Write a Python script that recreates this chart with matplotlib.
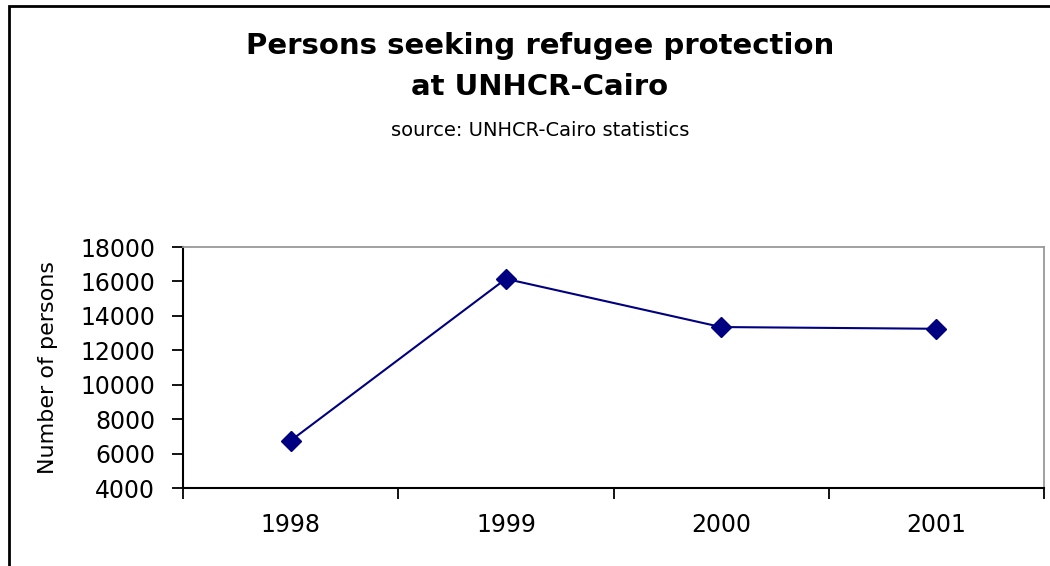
import matplotlib
matplotlib.use("Agg")
import matplotlib.pyplot as plt
from matplotlib.patches import Rectangle
from matplotlib.ticker import FixedLocator

# Data
years = ["1998", "1999", "2000", "2001"]
persons = [6750, 16150, 13350, 13250]

fig = plt.figure(figsize=(10.5, 5.66), dpi=100)
ax = fig.add_axes([0.1743, 0.1378, 0.82, 0.4258])

x = list(range(len(years)))
ax.plot(x, persons, color="#000080", linewidth=1.5, marker="D", markersize=10)

ax.set_xlim(-0.5, len(years) - 0.5)
ax.set_ylim(4000, 18000)
ax.set_yticks(range(4000, 18001, 2000))
ax.tick_params(axis="y", labelsize=17, length=8, width=1.3, direction="out", pad=12)

# category axis: ticks between categories, labels centred
ax.xaxis.set_major_locator(FixedLocator([i - 0.5 for i in range(len(years) + 1)]))
ax.set_xticklabels([])
ax.xaxis.set_minor_locator(FixedLocator(x))
ax.set_xticklabels(years, minor=True)
ax.tick_params(axis="x", which="major", length=8, width=1.3, direction="out")
ax.tick_params(axis="x", which="minor", length=0, labelsize=17, pad=18)

ax.set_ylabel("Number of persons", fontsize=16, labelpad=16)

for s in ["top", "right"]:
    ax.spines[s].set_color("#999999")
    ax.spines[s].set_linewidth(1.3)
for s in ["left", "bottom"]:
    ax.spines[s].set_color("black")
    ax.spines[s].set_linewidth(1.5)

fig.text(0.514, 0.918, "Persons seeking refugee protection", ha="center", va="center",
         fontsize=21, fontweight="bold")
fig.text(0.514, 0.846, "at UNHCR-Cairo", ha="center", va="center",
         fontsize=21, fontweight="bold")
fig.text(0.514, 0.77, "source: UNHCR-Cairo statistics", ha="center", va="center",
         fontsize=14)

# outer chart border (extends past right and bottom edge)
fig.patches.append(Rectangle((9 / 1050, -0.1), 1.2, 1.1 - 6 / 566,
                             transform=fig.transFigure, fill=False,
                             edgecolor="black", linewidth=2))

fig.savefig("out.png", dpi=100)
